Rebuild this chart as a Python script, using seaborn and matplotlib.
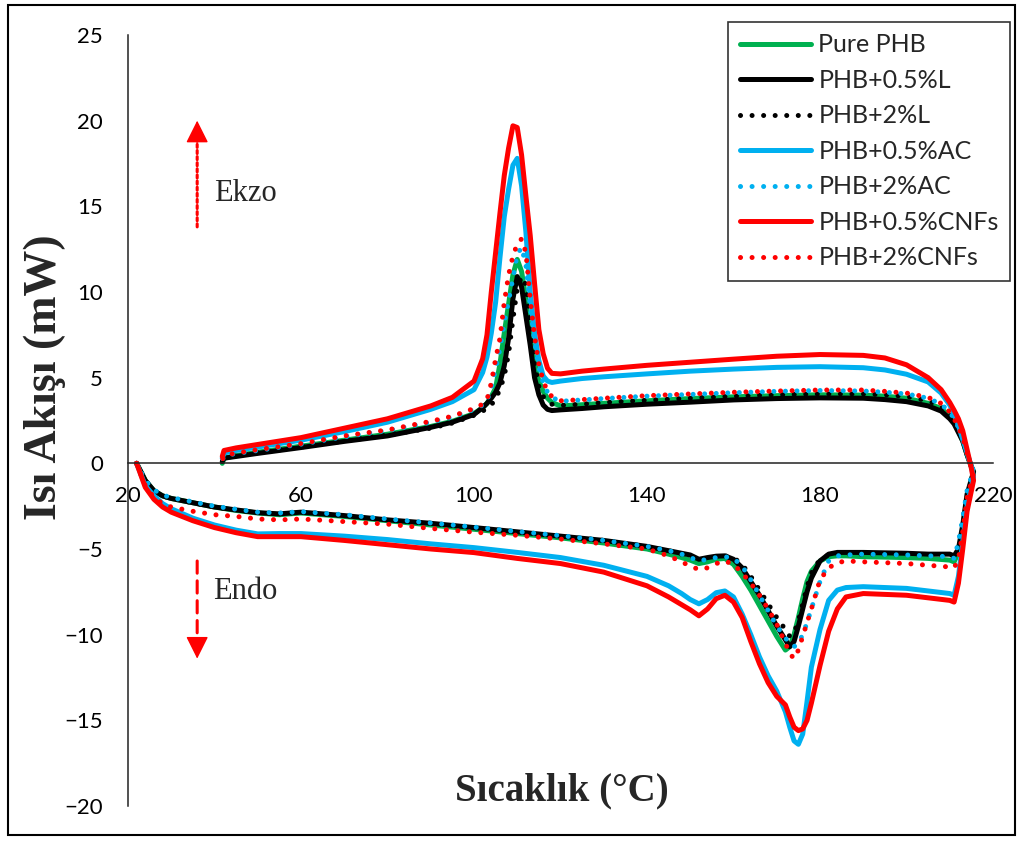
import matplotlib
matplotlib.use("Agg")
import matplotlib.pyplot as plt
import pandas as pd
import seaborn as sns
from matplotlib.patches import Rectangle

# DSC curves: heating run (endo, below zero) then cooling run (exo, above zero)
HEAT_T = [22, 24, 26, 28, 30, 35, 40, 45, 50, 55, 60, 70, 80, 90, 100, 110, 120, 130, 140,
          145, 148, 150, 152, 154, 156, 158, 160, 162, 164, 166, 168, 170, 172,
          173, 174, 175, 176, 177, 178, 180, 182, 184, 186, 190,
          200, 205, 210, 211, 212, 213, 214, 215.5]
COOL_T = [215, 214, 213, 212, 211, 210, 208, 205, 200, 195, 190,
          180, 170, 160, 150, 140, 130, 125, 120,
          118, 117, 116, 115, 114, 113, 112, 111, 110,
          109, 108, 107, 106, 105, 104, 103, 102,
          100, 95, 90, 80, 70, 60, 50, 45, 42.2, 41.8]

PURE_HEAT = [0, -1.0, -1.6, -1.9, -2.05, -2.3, -2.55, -2.75, -2.9, -3.0, -2.9,
             -3.1, -3.35, -3.6, -3.85, -4.1, -4.35, -4.65, -5.0,
             -5.3, -5.5, -5.65, -5.85, -5.75, -5.6, -5.55, -5.9,
             -6.6, -7.4, -8.3, -9.2, -10.1, -10.9,
             -10.7, -10.0, -9.0, -7.9, -6.9, -6.3,
             -5.7, -5.45, -5.4, -5.4, -5.45,
             -5.5, -5.55, -5.65, -5.75, -5.2, -3.8, -2.0, -0.5]
PURE_COOL = [-0.2, 0.5, 1.3, 1.9, 2.4, 2.75, 3.2, 3.5, 3.8, 3.92, 3.98,
             4.0, 3.95, 3.88, 3.78, 3.65, 3.5, 3.42, 3.35,
             3.55, 3.8, 4.2, 4.8, 5.9, 7.3, 9.6, 11.2, 11.9,
             11.0, 9.3, 7.6, 5.8, 4.4, 3.9, 3.5, 3.25,
             2.9, 2.45, 2.15, 1.7, 1.35, 1.0, 0.65, 0.45, 0.3, 0.0]

L05_HEAT = [0, -1.0, -1.6, -1.9, -2.05, -2.3, -2.55, -2.72, -2.88, -2.95, -2.85,
            -3.05, -3.3, -3.5, -3.75, -4.0, -4.25, -4.5, -4.85,
            -5.1, -5.25, -5.35, -5.6, -5.5, -5.42, -5.4, -5.6,
            -6.1, -6.9, -7.7, -8.6, -9.5, -10.3,
            -10.7, -10.4, -9.5, -8.5, -7.5, -6.7,
            -5.7, -5.3, -5.2, -5.2, -5.2,
            -5.25, -5.3, -5.3, -5.4, -5.0, -3.6, -1.8, -0.5]
L05_COOL = [-0.2, 0.5, 1.3, 1.8, 2.3, 2.6, 3.05, 3.35, 3.6, 3.72, 3.8,
            3.82, 3.78, 3.7, 3.57, 3.45, 3.3, 3.2, 3.12,
            3.08, 3.15, 3.4, 4.0, 5.0, 6.9, 8.6, 10.3, 10.9,
            9.6, 7.3, 5.7, 4.7, 4.15, 3.8, 3.5, 3.25,
            2.85, 2.4, 2.1, 1.6, 1.28, 0.92, 0.58, 0.4, 0.3, 0.1]

L2_HEAT = [0, -1.0, -1.6, -1.9, -2.05, -2.3, -2.55, -2.72, -2.88, -2.95, -2.85,
           -3.05, -3.3, -3.5, -3.75, -4.0, -4.25, -4.5, -4.85,
           -5.1, -5.3, -5.45, -5.65, -5.55, -5.45, -5.4, -5.5,
           -5.9, -6.6, -7.4, -8.2, -9.0, -9.7,
           -10.1, -9.9, -9.2, -8.2, -7.2, -6.4,
           -5.6, -5.35, -5.3, -5.3, -5.3,
           -5.3, -5.35, -5.4, -5.5, -4.8, -3.4, -1.7, -0.5]
L2_COOL = [-0.2, 0.6, 1.4, 2.0, 2.5, 2.85, 3.3, 3.65, 3.9, 4.0, 4.05,
           4.05, 4.0, 3.92, 3.8, 3.68, 3.55, 3.45, 3.38,
           3.45, 3.6, 3.9, 4.5, 5.8, 8.0, 10.4, 10.9, 10.2,
           8.4, 6.4, 5.1, 4.3, 3.8, 3.4, 3.2, 3.05,
           2.8, 2.35, 2.05, 1.65, 1.3, 0.95, 0.62, 0.45, 0.35, 0.15]

AC05_HEAT = [0, -1.3, -1.9, -2.35, -2.65, -3.2, -3.6, -3.9, -4.12, -4.1, -4.1,
             -4.25, -4.45, -4.7, -4.92, -5.2, -5.5, -5.95, -6.6,
             -7.15, -7.6, -7.95, -8.2, -7.95, -7.55, -7.45, -7.8,
             -8.8, -10.0, -11.3, -12.4, -13.3, -14.5,
             -15.4, -16.2, -16.4, -15.8, -13.9, -11.9,
             -9.7, -8.0, -7.4, -7.25, -7.2,
             -7.3, -7.45, -7.6, -7.7, -6.6, -4.6, -2.5, -0.8]
AC05_COOL = [-0.2, 0.6, 1.4, 2.2, 2.9, 3.4, 4.1, 4.75, 5.2, 5.45, 5.58,
             5.64, 5.6, 5.5, 5.38, 5.22, 5.05, 4.95, 4.8,
             4.72, 4.8, 5.1, 6.0, 7.6, 10.0, 13.5, 16.2, 17.8,
             17.4, 16.0, 14.4, 12.0, 9.4, 7.6, 6.2, 5.3,
             4.3, 3.6, 3.15, 2.4, 1.85, 1.35, 0.95, 0.75, 0.6, 0.3]

AC2_HEAT = [0, -1.0, -1.55, -1.85, -2.0, -2.25, -2.5, -2.68, -2.85, -2.9, -2.82,
            -3.0, -3.25, -3.48, -3.72, -3.98, -4.22, -4.5, -4.85,
            -5.1, -5.3, -5.5, -5.7, -5.6, -5.5, -5.45, -5.55,
            -6.0, -6.8, -7.7, -8.6, -9.5, -10.2,
            -10.5, -10.7, -10.5, -10.0, -9.3, -8.5,
            -6.9, -5.7, -5.4, -5.35, -5.3,
            -5.35, -5.4, -5.45, -5.55, -4.6, -3.2, -1.6, -0.4]
AC2_COOL = [-0.2, 0.6, 1.5, 2.1, 2.6, 3.0, 3.45, 3.8, 4.05, 4.15, 4.22,
            4.25, 4.2, 4.12, 4.02, 3.92, 3.78, 3.7, 3.62,
            3.85, 4.15, 4.7, 5.6, 7.1, 9.2, 11.6, 12.6, 12.2,
            10.8, 9.5, 8.2, 6.7, 5.5, 4.4, 3.65, 3.4,
            3.15, 2.7, 2.4, 1.92, 1.55, 1.12, 0.75, 0.58, 0.42, 0.2]

CNF05_HEAT = [0, -1.4, -2.1, -2.55, -2.85, -3.35, -3.75, -4.05, -4.28, -4.28, -4.28,
              -4.5, -4.75, -5.0, -5.21, -5.55, -5.85, -6.35, -7.15,
              -7.8, -8.25, -8.55, -8.9, -8.5, -7.9, -7.7, -8.1,
              -9.0, -10.4, -11.7, -12.8, -13.6, -14.1,
              -14.8, -15.4, -15.6, -15.5, -15.0, -14.0,
              -11.8, -9.8, -8.5, -7.8, -7.6,
              -7.7, -7.85, -8.0, -8.1, -7.0, -5.0, -2.8, -1.0]
CNF05_COOL = [-0.3, 0.8, 1.9, 2.6, 3.1, 3.55, 4.3, 5.0, 5.75, 6.15, 6.3,
              6.35, 6.25, 6.08, 5.9, 5.72, 5.5, 5.38, 5.22,
              5.25, 5.55, 6.4, 7.8, 10.5, 13.3, 15.6, 18.0, 19.6,
              19.7, 18.4, 16.8, 14.6, 12.3, 10.0, 7.5, 6.1,
              4.8, 3.85, 3.35, 2.6, 2.05, 1.5, 1.1, 0.9, 0.75, 0.4]

CNF2_HEAT = [0, -1.3, -2.0, -2.35, -2.55, -2.8, -3.0, -3.1, -3.25, -3.3, -3.25,
             -3.4, -3.55, -3.8, -4.02, -4.2, -4.42, -4.7, -5.0,
             -5.4, -5.75, -6.0, -6.2, -6.1, -5.85, -5.7, -5.9,
             -6.4, -7.0, -7.7, -8.5, -9.4, -10.5,
             -11.1, -11.4, -10.9, -10.1, -9.3, -8.5,
             -6.8, -6.1, -5.8, -5.7, -5.75,
             -5.85, -5.95, -6.05, -6.1, -5.6, -4.0, -2.0, -0.6]
CNF2_COOL = [-0.2, 0.6, 1.5, 2.1, 2.6, 3.0, 3.5, 3.85, 4.1, 4.2, 4.28,
             4.28, 4.22, 4.15, 4.05, 3.95, 3.8, 3.72, 3.65,
             3.9, 4.2, 4.8, 5.8, 7.4, 9.6, 12.3, 13.1, 12.8,
             12.1, 11.0, 9.4, 7.3, 6.1, 4.7, 3.7, 3.45,
             3.2, 2.75, 2.45, 1.95, 1.6, 1.15, 0.8, 0.6, 0.45, 0.2]

LABELS = ["Pure PHB", "PHB+0.5%L", "PHB+2%L", "PHB+0.5%AC",
          "PHB+2%AC", "PHB+0.5%CNFs", "PHB+2%CNFs"]
HEATS = [PURE_HEAT, L05_HEAT, L2_HEAT, AC05_HEAT, AC2_HEAT, CNF05_HEAT, CNF2_HEAT]
COOLS = [PURE_COOL, L05_COOL, L2_COOL, AC05_COOL, AC2_COOL, CNF05_COOL, CNF2_COOL]

GREEN, BLACK, BLUE, RED = "#00B050", "#000000", "#00B0F0", "#FF0000"
COLORS = [GREEN, BLACK, BLACK, BLUE, BLUE, RED, RED]
DOT = (0, (0.01, 2.3))
STYLES = ["-", "-", DOT, "-", DOT, "-", DOT]

sns.set_style("white")
plt.rcParams["font.family"] = ["Lato", "DejaVu Sans"]
SERIF = "Liberation Serif"

fig = plt.figure(figsize=(10.23, 8.43), dpi=100)
ax = fig.add_axes([0.1251, 0.0439, 0.8456, 0.9146])

for name, heat, cool, col, ls in zip(LABELS, HEATS, COOLS, COLORS, STYLES):
    df = pd.DataFrame({"T": HEAT_T + COOL_T, "Q": heat + cool})
    sns.lineplot(data=df, x="T", y="Q", sort=False, estimator=None, ax=ax,
                 color=col, lw=3.6, linestyle=ls, dash_capstyle="round",
                 solid_capstyle="round", solid_joinstyle="round", label=name)

ax.set_xlim(20, 220)
ax.set_ylim(-20, 25)
ax.set_xticks(range(20, 221, 40))
ax.set_yticks(range(-20, 26, 5))
for s in ("top", "right"):
    ax.spines[s].set_visible(False)
ax.spines["bottom"].set_position(("data", 0))
for s in ("left", "bottom"):
    ax.spines[s].set_color("#222222")
    ax.spines[s].set_linewidth(1.1)
ax.tick_params(axis="both", which="major", direction="out", length=6, width=1.1,
               color="#222222", labelsize=16, labelcolor="black")
ax.tick_params(axis="y", pad=12)
ax.tick_params(axis="x", pad=10)

ax.set_xlabel("Sıcaklık (°C)", family=SERIF, fontsize=28, fontweight="bold")
ax.xaxis.set_label_coords(0.502, 0.044)
ax.set_ylabel("Isı Akışı (mW)", family=SERIF, fontsize=33, fontweight="bold")
ax.yaxis.set_label_coords(-0.072, 0.556)

# Ekzo / Endo markers: patterned shaft + solid head
HEAD = dict(arrowstyle="-|>,head_length=0.7,head_width=0.35", color=RED, lw=1,
            mutation_scale=20, shrinkA=0, shrinkB=0)
ax.annotate("", xy=(36, 19.0), xytext=(36, 13.8),
            arrowprops=dict(arrowstyle="-", color=RED, lw=2.2,
                            linestyle=(0, (1, 1)), shrinkA=0, shrinkB=0))
ax.annotate("", xy=(36, 20.0), xytext=(36, 18.8), arrowprops=HEAD)
ax.text(39.9, 15.3, "Ekzo", family=SERIF, fontsize=22, va="baseline")
ax.annotate("", xy=(36, -10.5), xytext=(36, -5.7),
            arrowprops=dict(arrowstyle="-", color=RED, lw=2.2,
                            linestyle=(0, (4, 2.5)), shrinkA=0, shrinkB=0))
ax.annotate("", xy=(36, -11.4), xytext=(36, -10.2), arrowprops=HEAD)
ax.text(39.6, -7.9, "Endo", family=SERIF, fontsize=22, va="baseline")

leg = ax.legend(loc="upper right", bbox_to_anchor=(0.9873, 0.9739),
                bbox_transform=fig.transFigure, borderaxespad=0, fontsize=18,
                frameon=True, fancybox=False, edgecolor="black",
                handlelength=2.85, labelspacing=0.5, handletextpad=0.3,
                borderpad=0.45)
leg.get_frame().set_linewidth(1.2)

fig.patches.append(Rectangle((0.0078, 0.0095), 0.984, 0.9846, transform=fig.transFigure,
                             fill=False, edgecolor="black", lw=1.5))

fig.savefig("out.png", dpi=100)
